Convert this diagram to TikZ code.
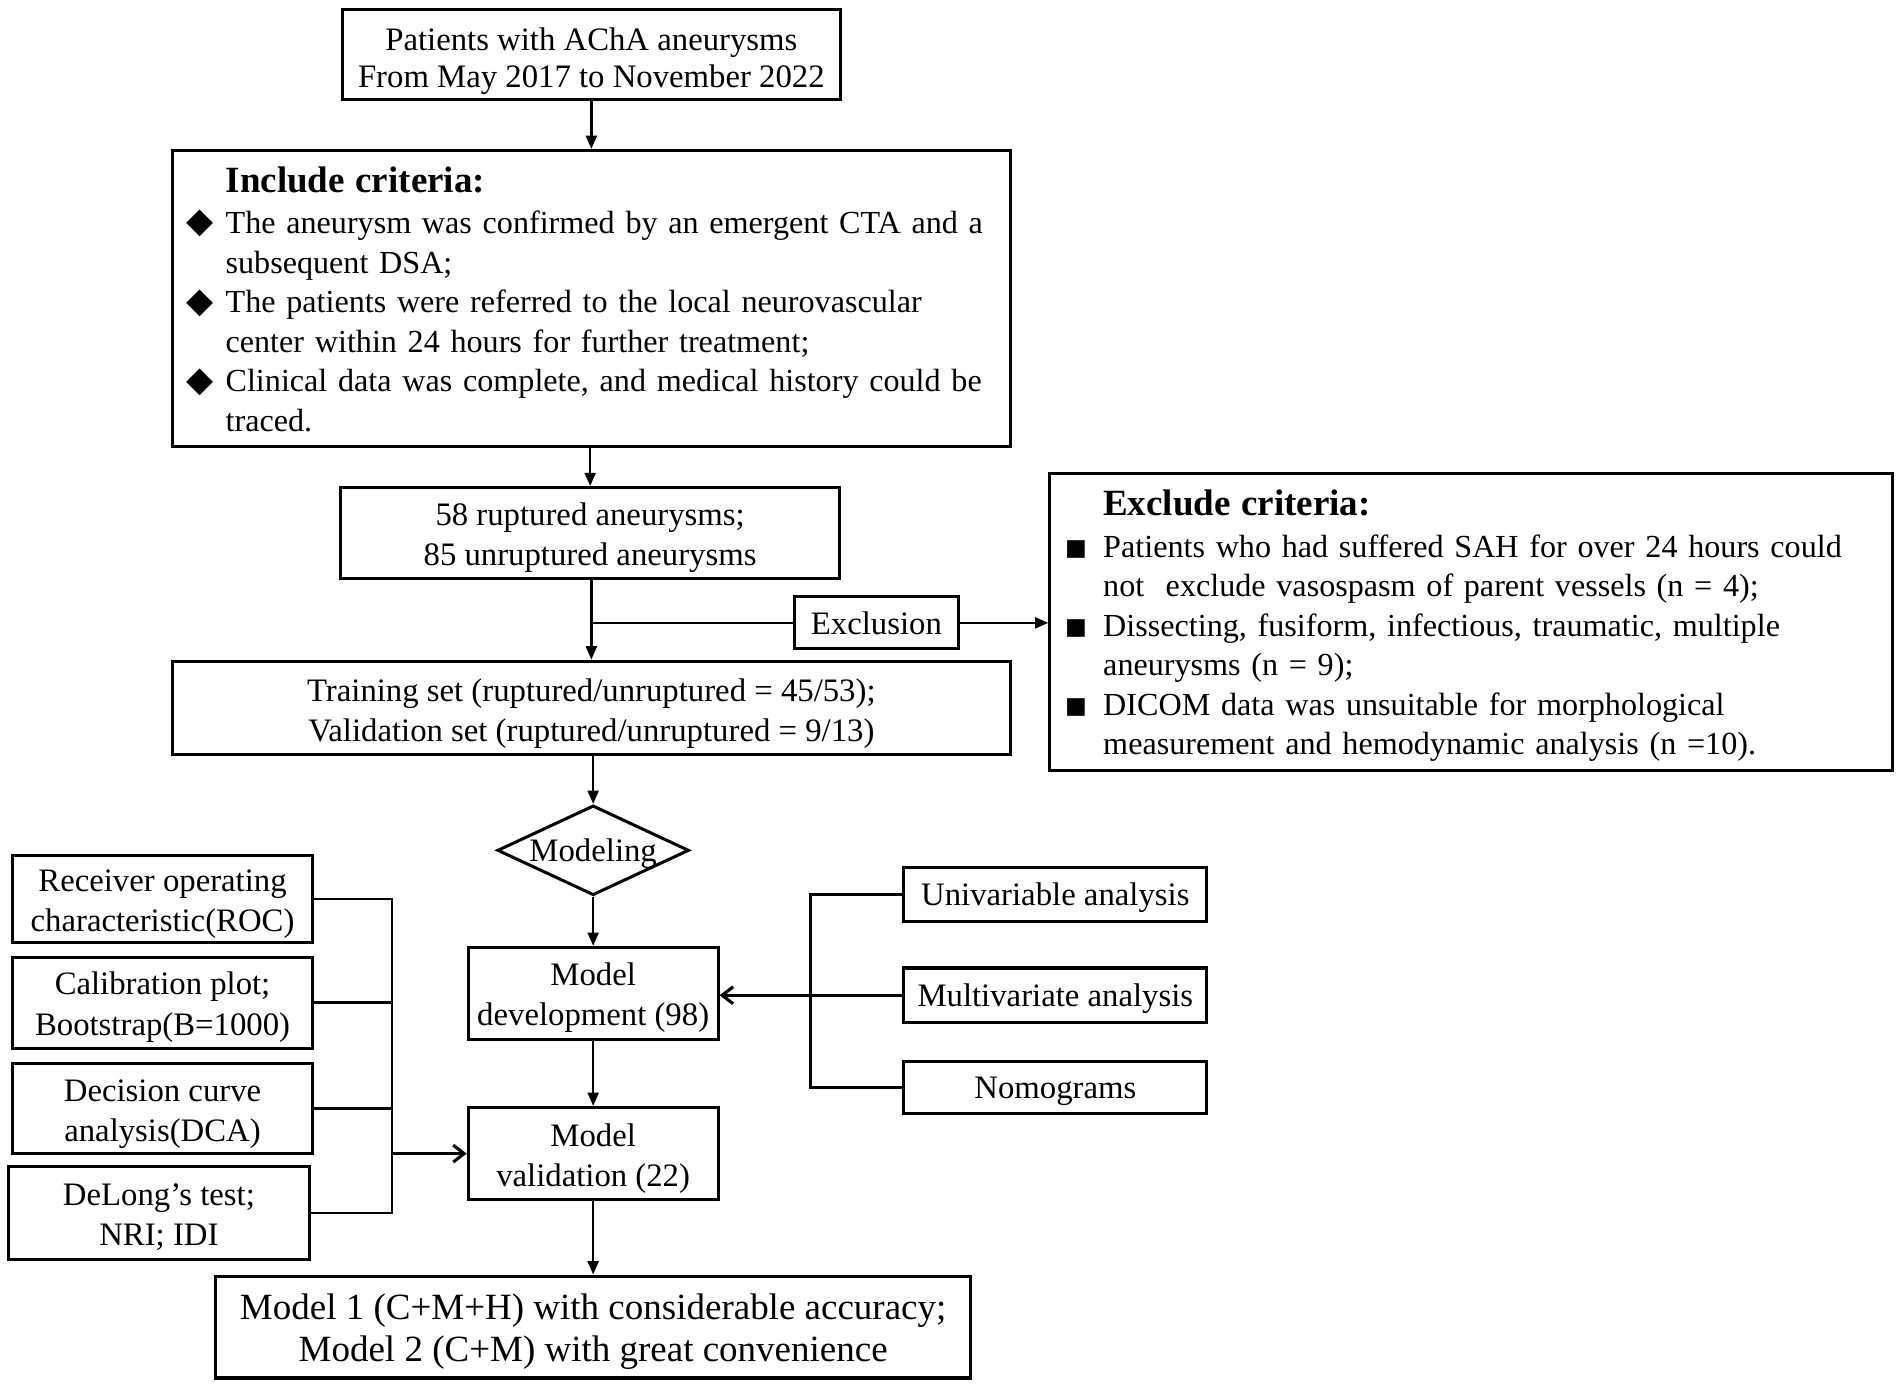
\documentclass[tikz,border=0pt]{standalone}
\usepackage{fontspec}
\setmainfont{Liberation Serif}
\newfontfamily\symf{DejaVu Sans}
\usetikzlibrary{arrows.meta,shapes.geometric}
\newcommand{\dia}{\makebox[32pt][l]{\raisebox{0.5pt}{\fontsize{29}{33}\symf ◆}}}
\newcommand{\sqb}{\makebox[31.5pt][l]{\raisebox{1.5pt}{\fontsize{19}{33}\symf ■}}}
\newcommand{\critfont}{\fontsize{26.5}{32.6}\selectfont}
% vertical extent struts (first line / last line)
\newcommand{\T}{\rule{0pt}{26.5pt}}
\newcommand{\B}{\rule[-6pt]{0pt}{6pt}}
\newcommand{\TT}{\rule{0pt}{29pt}}
\newcommand{\TS}{\rule{0pt}{24pt}}
\newcommand{\BS}{\rule[-5.5pt]{0pt}{5.5pt}}
\newcommand{\TC}{\rule{0pt}{31.5pt}}
\newcommand{\BC}{\rule[-9.5pt]{0pt}{9.5pt}}
\newcommand{\TF}{\rule{0pt}{29pt}}
\newcommand{\BF}{\rule[-6.5pt]{0pt}{6.5pt}}
\begin{document}
\begin{tikzpicture}[x=1pt,y=-1pt,
  box/.style={draw, line width=2.5pt, inner sep=0pt, align=center,
    font=\fontsize{27}{33}\selectfont},
  critbox/.style={draw, line width=2.5pt, inner sep=0pt, inner xsep=12pt, align=left,
    font=\critfont},
  conn/.style={line width=2pt},
  arr/.style={line width=2pt, -{Triangle[length=11pt,width=9pt]}},
  barb/.style={line width=2.6pt, -{Straight Barb[length=9pt,width=14pt,line width=2.6pt]}}]
\useasboundingbox (0,0) rectangle (1568,1143);

\node[box, minimum width=411, minimum height=74, font=\fontsize{27}{30.5}\selectfont] (top) at (487.5,45)
  {\TT Patients with AChA aneurysms\\From May 2017 to November 2022\B};

\node[critbox, minimum width=691, minimum height=244, text width=667] (incl) at (487.5,246)
  {\TC\hspace*{32pt}{\fontsize{30.5}{32.6}\selectfont\bfseries Include criteria:}\\[1.5pt]
   \mbox{\dia The aneurysm was confirmed by an emergent CTA and a}\\
   \mbox{\hspace*{32pt}subsequent DSA;}\\
   \mbox{\dia The patients were referred to the local neurovascular}\\
   \mbox{\hspace*{32pt}center within 24 hours for further treatment;}\\
   \mbox{\dia Clinical data was complete, and medical history could be}\\
   \mbox{\hspace*{32pt}traced.}\BC};

\node[box, minimum width=411, minimum height=75] (rupt) at (486.5,439.5)
  {\T 58 ruptured aneurysms;\\85 unruptured aneurysms\B};

\node[box, minimum width=135, minimum height=43] (exclusion) at (722.5,513.5) {\TS Exclusion\BS};

\node[box, minimum width=691, minimum height=77] (train) at (487.5,583.5)
  {\TT Training set (ruptured/unruptured = 45/53);\\Validation set (ruptured/unruptured = 9/13)\B};

\node[critbox, minimum width=694, minimum height=245, text width=670, inner xsep=12.5pt] (excl) at (1213,512.5)
  {\TC\hspace*{31.5pt}{\fontsize{30.5}{32.6}\selectfont\bfseries Exclude criteria:}\\[2pt]
   \mbox{\sqb Patients who had suffered SAH for over 24 hours could}\\
   \mbox{\hspace*{31.5pt}not\ \ exclude vasospasm of parent vessels (n = 4);}\\
   \mbox{\sqb Dissecting, fusiform, infectious, traumatic, multiple}\\
   \mbox{\hspace*{31.5pt}aneurysms (n = 9);}\\
   \mbox{\sqb DICOM data was unsuitable for morphological}\\
   \mbox{\hspace*{31.5pt}measurement and hemodynamic analysis (n =10).}\BC};

\node[draw, diamond, line width=2.5pt, inner sep=0pt, minimum width=158, minimum height=74,
  font=\fontsize{27}{33}\selectfont] (model) at (489,701)
  {\smash{\makebox[0pt]{\raisebox{-9pt}{Modeling}}}};

\node[box, minimum width=206, minimum height=76] (dev) at (489,819) {\T Model\\development (98)\B};
\node[box, minimum width=206, minimum height=76] (val) at (489,951) {\T Model\\validation (22)\B};
\node[box, minimum width=622, minimum height=84, font=\fontsize{30.5}{35}\selectfont] (final) at (489,1094)
  {\TF Model 1 (C+M+H) with considerable accuracy;\\Model 2 (C+M) with great convenience\BF};

\node[box, minimum width=248, minimum height=72] (roc) at (134,741) {\T Receiver operating\\characteristic(ROC)\B};
\node[box, minimum width=248, minimum height=75] (cal) at (134,826.5) {\T Calibration plot;\\Bootstrap(B=1000)\B};
\node[box, minimum width=248, minimum height=74] (dca) at (134,914) {\T Decision curve\\analysis(DCA)\B};
\node[box, minimum width=248, minimum height=76] (dl) at (131,1000) {\T DeLong's test;\\NRI; IDI\B};

\node[box, minimum width=250, minimum height=45] (uni) at (870,737.5) {\TS Univariable analysis\BS};
\node[box, minimum width=250, minimum height=45] (multi) at (870,820.5) {\TS Multivariate analysis\BS};
\node[box, minimum width=250, minimum height=43] (nomo) at (870,896.5) {\TS Nomograms\BS};

% main flow
\draw[arr] (top) -- (incl);
\draw[arr] (incl.south -| rupt.north) -- (rupt.north);
\draw[arr] (rupt.south -| train.north) -- (train.north);
\coordinate (j1) at (rupt.south |- exclusion.west);
\draw[conn] (j1) -- (exclusion.west);
\draw[arr] (exclusion.east) -- (excl.west |- exclusion.east);
\draw[arr] (model.north |- train.south) -- (model.north);
\draw[arr] (model.south) -- (dev.north);
\draw[arr] (dev.south) -- (val.north);
\draw[arr] (val.south) -- (final.north);

% left bracket
\coordinate (lb) at (323,951);
\draw[conn] (roc.east) -- (roc.east -| lb) -- (dl.east -| lb) -- (dl.east);
\draw[conn] (cal.east) -- (cal.east -| lb);
\draw[conn] (dca.east) -- (dca.east -| lb);
\draw[barb] (lb) -- (val.west);

% right bracket
\coordinate (rb) at (668,820.5);
\draw[conn] (uni.west) -- (uni.west -| rb) -- (nomo.west -| rb) -- (nomo.west);
\draw[barb] (multi.west) -- (dev.east |- multi.west);
\end{tikzpicture}
\end{document}
